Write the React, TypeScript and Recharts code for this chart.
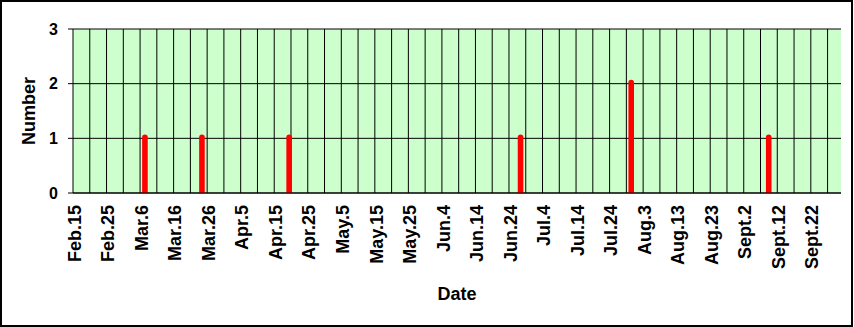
import React from 'react';
import { Bar, BarChart, CartesianGrid, XAxis, YAxis } from 'recharts';

// leap year, Feb.15 .. Sept.30, one category per day
const months = ['Feb.', 'Mar.', 'Apr.', 'May.', 'Jun.', 'Jul.', 'Aug.', 'Sept.'];
const monthDays = [29, 31, 30, 31, 30, 31, 31, 30];
const firstDay = 15;

const tickLabels = [
  'Feb.15', 'Feb.25', 'Mar.6', 'Mar.16', 'Mar.26', 'Apr.5', 'Apr.15', 'Apr.25',
  'May.5', 'May.15', 'May.25', 'Jun.4', 'Jun.14', 'Jun.24', 'Jul.4', 'Jul.14',
  'Jul.24', 'Aug.3', 'Aug.13', 'Aug.23', 'Sept.2', 'Sept.12', 'Sept.22',
];

const eventDates = ['Mar.7', 'Mar.24', 'Apr.19', 'Jun.27', 'Jul.30', 'Sept.9'];
const eventCounts = [1, 1, 1, 1, 2, 1];

const yTicks = [0, 1, 2, 3];
const gridStep = 5; // vertical gridline every 5 days

const days: string[] = [];
months.forEach((m, i) => {
  for (let d = i === 0 ? firstDay : 1; d <= monthDays[i]; d++) days.push(`${m}${d}`);
});

const chartData = days.map((date) => {
  const k = eventDates.indexOf(date);
  return { date, count: k >= 0 ? eventCounts[k] : null };
});

const FONT = '"Liberation Sans", Arial, sans-serif';
const BAR_W = 5.6;

const XTick = ({ x, y, payload }: any) => (
  <text
    x={x}
    y={y}
    transform={`rotate(-90 ${x} ${y})`}
    textAnchor='end'
    dominantBaseline='central'
    fontFamily={FONT}
    fontWeight='bold'
    fontSize={18}
    fill='#000'
  >
    {payload.value}
  </text>
);

const YLabel = ({ viewBox }: any) => {
  const cx = viewBox.x + 29;
  const cy = viewBox.y + viewBox.height / 2;
  return (
    <text
      x={cx}
      y={cy}
      transform={`rotate(-90 ${cx} ${cy})`}
      textAnchor='middle'
      dominantBaseline='central'
      fontFamily={FONT}
      fontWeight='bold'
      fontSize={18}
      fill='#000'
    >
      Number
    </text>
  );
};

const XLabel = ({ viewBox }: any) => (
  <text
    x={viewBox.x + viewBox.width / 2}
    y={viewBox.y + 107}
    textAnchor='middle'
    fontFamily={FONT}
    fontWeight='bold'
    fontSize={18}
    fill='#000'
  >
    Date
  </text>
);

// thick red stick with a round cap centred on the value
const Stick = ({ x, y, width, height }: any) => {
  if (!height || height <= 0) return null;
  const cx = x + width / 2;
  const r = BAR_W / 2;
  const l = cx - r;
  const b = y + height;
  const top = y - 1;
  return (
    <path
      d={`M${l},${b} L${l},${top} A${r},${r} 0 0 1 ${l + BAR_W},${top} L${l + BAR_W},${b} Z`}
      fill='#FF0000'
    />
  );
};

export default function App() {
  const verticalLines = ({ offset }: any) => {
    const band = offset.width / days.length;
    const pts: number[] = [];
    for (let i = gridStep; i < days.length; i += gridStep) pts.push(offset.left + i * band);
    return pts;
  };

  return (
    <div style={{ position: 'fixed', left: 0, top: 0, width: 854, height: 327, background: '#fff' }}>
      <BarChart
        width={854}
        height={327}
        data={chartData}
        margin={{ top: 29, right: 13, left: 0, bottom: 0 }}
        barCategoryGap={0}
      >
        <CartesianGrid
          stroke='#000'
          fill='#CCFFCC'
          fillOpacity={1}
          verticalCoordinatesGenerator={verticalLines}
        />
        <XAxis
          dataKey='date'
          ticks={tickLabels}
          interval={0}
          height={134}
          tickLine={false}
          tickSize={0}
          tickMargin={12}
          tick={<XTick />}
          axisLine={{ stroke: '#000' }}
          label={<XLabel />}
        />
        <XAxis
          xAxisId='top'
          dataKey='date'
          orientation='top'
          height={0}
          tick={false}
          tickLine={false}
          axisLine={{ stroke: '#808080' }}
        />
        <YAxis
          domain={[0, 3]}
          ticks={yTicks}
          width={73}
          tickSize={5}
          tickMargin={10}
          tickLine={{ stroke: '#000' }}
          axisLine={{ stroke: '#000' }}
          tick={{ fontSize: 16, fontWeight: 'bold', fill: '#000', fontFamily: FONT }}
          label={<YLabel />}
        />
        <YAxis
          yAxisId='r'
          orientation='right'
          domain={[0, 3]}
          width={0}
          tick={false}
          tickLine={false}
          axisLine={{ stroke: '#808080' }}
        />
        <Bar dataKey='count' fill='#FF0000' shape={<Stick />} isAnimationActive={false} />
      </BarChart>
      <div
        style={{
          position: 'absolute',
          left: 0,
          top: 0,
          width: 853,
          height: 327,
          border: '2px solid #000',
          boxSizing: 'border-box',
          pointerEvents: 'none',
        }}
      />
    </div>
  );
}
